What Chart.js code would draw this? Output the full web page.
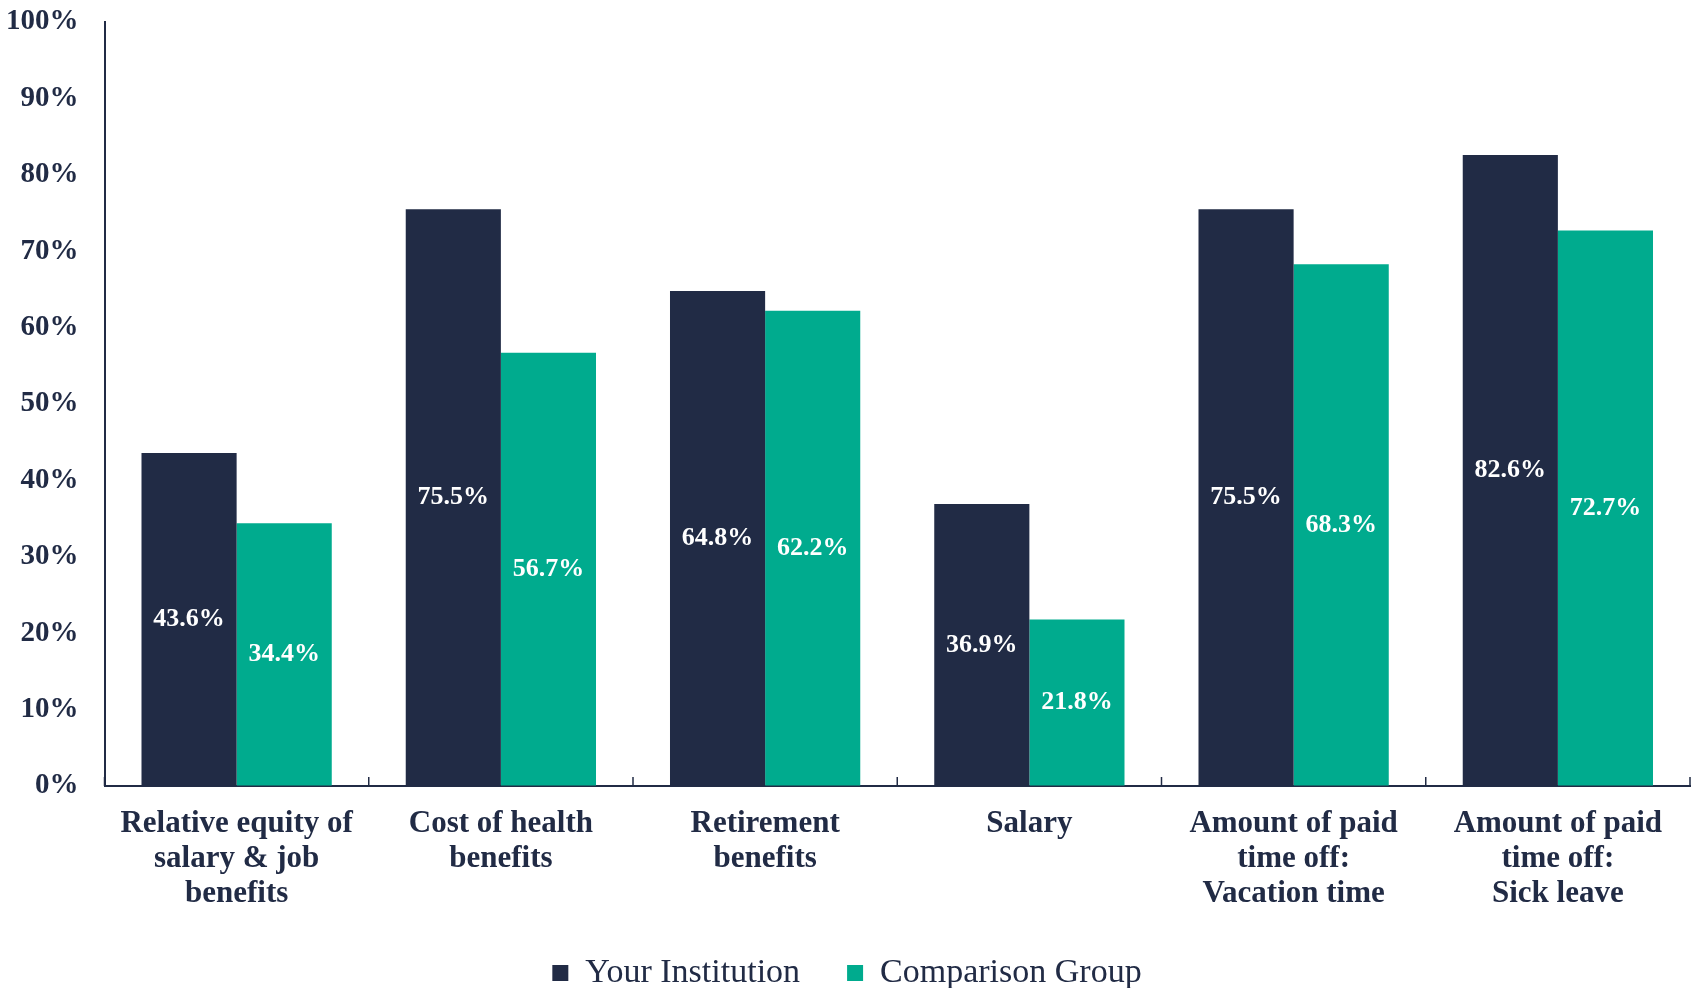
<!DOCTYPE html>
<html>
<head>
<meta charset="utf-8">
<script src="https://cdn.jsdelivr.net/npm/chart.js@4"></script>
<style>
  html, body { margin: 0; padding: 0; background: #fff; }
  #wrap { width: 1696px; height: 988px; }
</style>
</head>
<body>
<div id="wrap"><canvas id="chart"></canvas></div>
<script>
const categories = [
  ["Relative equity of", "salary & job", "benefits"],
  ["Cost of health", "benefits"],
  ["Retirement", "benefits"],
  ["Salary"],
  ["Amount of paid", "time off:", "Vacation time"],
  ["Amount of paid", "time off:", "Sick leave"],
];
const yourInstitution = [43.6, 75.5, 64.8, 36.9, 75.5, 82.6];
const comparisonGroup = [34.4, 56.7, 62.2, 21.8, 68.3, 72.7];
const seriesNames = ["Your Institution", "Comparison Group"];

const navy = "#212B45";
const teal = "#00AB8E";
const serif = "'Liberation Serif', 'DejaVu Serif', serif";

// white value labels centred in each bar
const barLabels = {
  id: "barLabels",
  afterDatasetsDraw(chart) {
    const ctx = chart.ctx;
    ctx.save();
    ctx.font = "bold 26px " + serif;
    ctx.fillStyle = "#fff";
    ctx.textAlign = "center";
    ctx.textBaseline = "middle";
    chart.data.datasets.forEach((ds, i) => {
      chart.getDatasetMeta(i).data.forEach((bar, j) => {
        const mid = (bar.y + bar.base) / 2;
        ctx.fillText(ds.data[j].toFixed(1) + "%", bar.x, mid);
      });
    });
    ctx.restore();
  },
};

// short inward tick marks between categories
const innerTicks = {
  id: "innerTicks",
  afterDraw(chart) {
    const x = chart.scales.x;
    const bottom = chart.chartArea.bottom;
    const ctx = chart.ctx;
    ctx.save();
    ctx.strokeStyle = navy;
    ctx.lineWidth = 1.5;
    for (let i = 0; i <= categories.length; i++) {
      const px = x.getPixelForValue(i - 0.5);
      ctx.beginPath();
      ctx.moveTo(px, bottom - 9);
      ctx.lineTo(px, bottom);
      ctx.stroke();
    }
    ctx.restore();
  },
};

new Chart(document.getElementById("chart"), {
  type: "bar",
  data: {
    labels: categories,
    datasets: [
      { label: seriesNames[0], data: yourInstitution, backgroundColor: navy },
      { label: seriesNames[1], data: comparisonGroup, backgroundColor: teal },
    ],
  },
  options: {
    responsive: true,
    maintainAspectRatio: false,
    animation: false,
    layout: { padding: { top: 22, right: 6, left: 4, bottom: 0 } },
    datasets: { bar: { categoryPercentage: 0.72, barPercentage: 1.0 } },
    plugins: {
      tooltip: { enabled: false },
      legend: {
        position: "bottom",
        maxHeight: 79,
        labels: {
          color: navy,
          font: { family: serif, size: 34 },
          boxWidth: 16,
          boxHeight: 16,
          padding: 47,
          useBorderRadius: false,
        },
      },
    },
    scales: {
      x: {
        afterFit: (scale) => { scale.height = 123; },
        grid: { display: false, drawTicks: false },
        border: { display: true, color: navy, width: 2 },
        ticks: {
          color: navy,
          font: { family: serif, size: 31, weight: "bold", lineHeight: 1.13 },
          padding: 20,
          maxRotation: 0,
          autoSkip: false,
        },
      },
      y: {
        min: 0,
        max: 100,
        grid: {
          display: true,
          drawOnChartArea: false,
          drawTicks: true,
          tickLength: 24,
          tickColor: "rgba(0,0,0,0)",
        },
        border: { display: true, color: navy, width: 2 },
        ticks: {
          stepSize: 10,
          color: navy,
          font: { family: serif, size: 29, weight: "bold" },
          padding: 2,
          callback: (v) => v + "%",
        },
      },
    },
  },
  plugins: [barLabels, innerTicks],
});
</script>
</body>
</html>
